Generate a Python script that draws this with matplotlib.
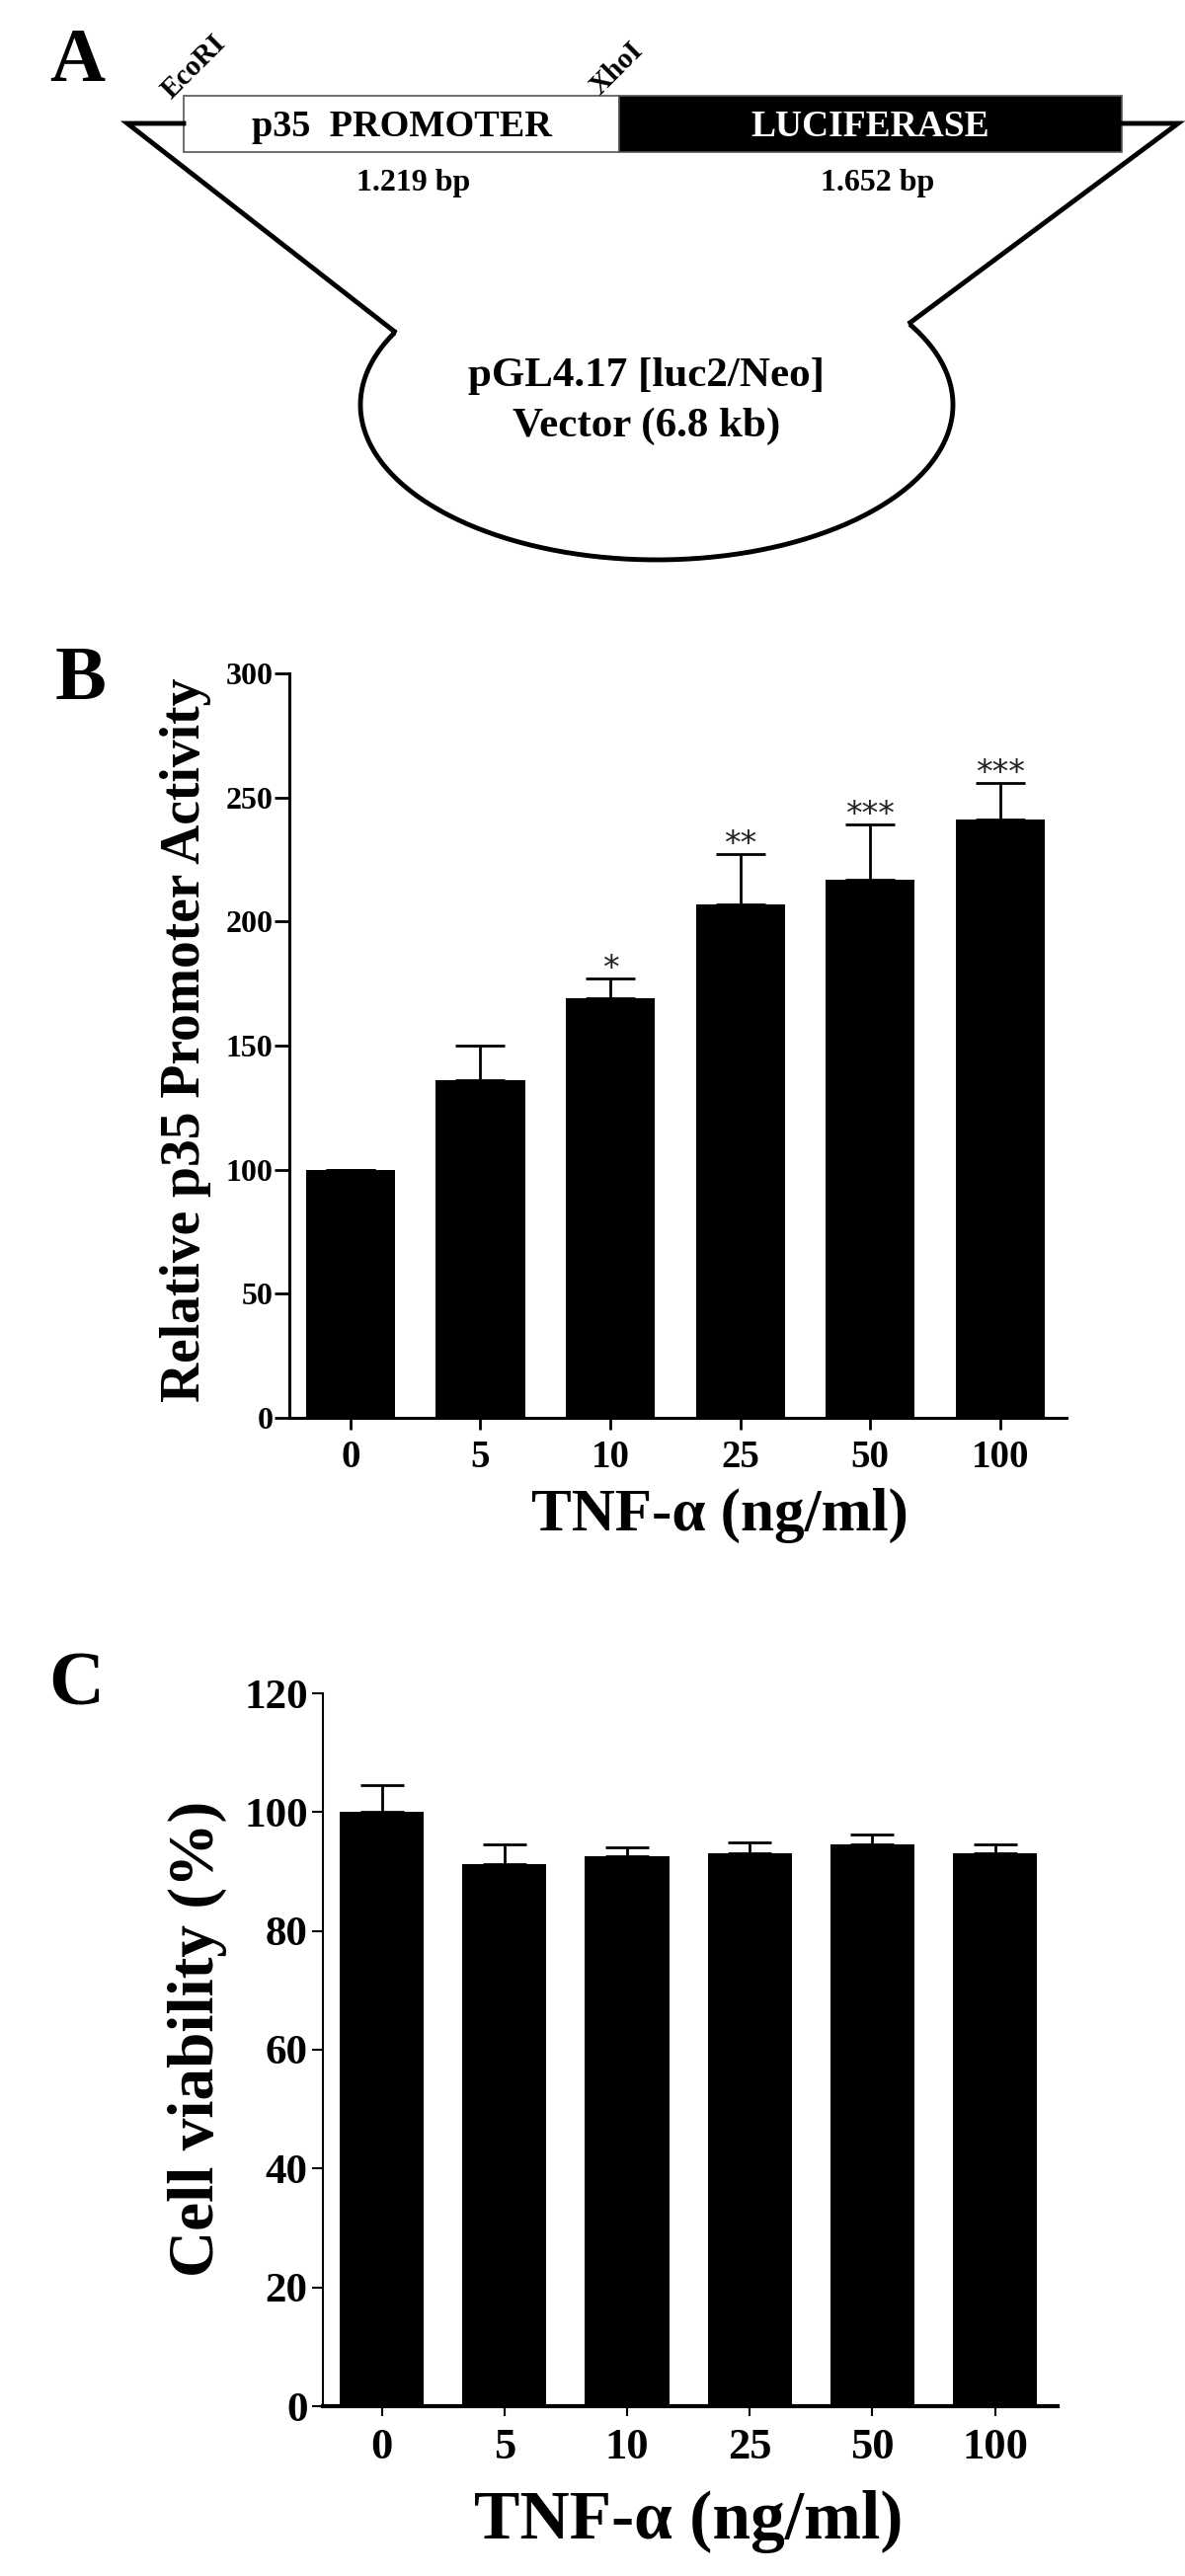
import matplotlib
matplotlib.use('Agg')
import matplotlib.pyplot as plt
import numpy as np
from matplotlib.patches import Rectangle

plt.rcParams['font.family'] = ['Liberation Serif', 'DejaVu Serif']
plt.rcParams['font.weight'] = 'bold'

# data
doses = ['0', '5', '10', '25', '50', '100']
promoter_mean = [100, 136, 169, 207, 217, 241]
promoter_err = [0, 14, 8, 20, 22, 15]
promoter_sig = ['', '', '*', '**', '***', '***']
viability_mean = [100, 91.3, 92.6, 93.0, 94.6, 93.0]
viability_err = [4.6, 3.2, 1.4, 1.9, 1.6, 1.6]

W, H = 1200, 2609
fig = plt.figure(figsize=(W / 100, H / 100), dpi=100)

# ---- panel A: construct schematic, drawn in pixel coordinates ----
axA = fig.add_axes([0, 0, 1, 1])
axA.set_xlim(0, W)
axA.set_ylim(H, 0)
axA.axis('off')

box_x0, box_split, box_x1 = 186, 627, 1136
box_y0, box_y1 = 97, 154
stub_y = 125
left_tip, right_tip = 129, 1193
neck_l, neck_r = (401, 337), (920, 328)
ell_c, ell_rx, ell_ry = (665, 410), 300, 157

axA.add_patch(Rectangle((box_x0, box_y0), box_split - box_x0, box_y1 - box_y0,
                        facecolor='white', edgecolor='#555555', lw=1.2))
axA.add_patch(Rectangle((box_split, box_y0), box_x1 - box_split, box_y1 - box_y0,
                        facecolor='black', edgecolor='#555555', lw=1.2))

t0 = np.arctan2((neck_l[1] - ell_c[1]) / ell_ry, (neck_l[0] - ell_c[0]) / ell_rx) + 2 * np.pi
t1 = np.arctan2((neck_r[1] - ell_c[1]) / ell_ry, (neck_r[0] - ell_c[0]) / ell_rx)
t = np.linspace(t0, t1, 200)
arc_x = ell_c[0] + ell_rx * np.cos(t)
arc_y = ell_c[1] + ell_ry * np.sin(t)

px = [box_x0, left_tip, neck_l[0]] + list(arc_x) + [neck_r[0], right_tip, box_x1]
py = [stub_y, stub_y, neck_l[1]] + list(arc_y) + [neck_r[1], stub_y, stub_y]
axA.plot(px, py, color='black', lw=3.5, solid_joinstyle='miter')

axA.text(407, 128, 'p35  PROMOTER', fontsize=27.5, ha='center', va='center')
axA.text(881, 128, 'LUCIFERASE', fontsize=27, ha='center', va='center', color='white')
axA.text(419, 185, '1.219 bp', fontsize=23, ha='center', va='center')
axA.text(889, 185, '1.652 bp', fontsize=23, ha='center', va='center')
axA.text(174, 101, 'EcoRI', fontsize=21, rotation=45, rotation_mode='anchor',
         ha='left', va='baseline')
axA.text(608, 97, 'XhoI', fontsize=21, rotation=45, rotation_mode='anchor',
         ha='left', va='baseline')
axA.text(655, 381, 'pGL4.17 [luc2/Neo]', fontsize=31, ha='center', va='center')
axA.text(655, 432, 'Vector (6.8 kb)', fontsize=31, ha='center', va='center')

for letter, lx, ly in [('A', 78, 63), ('B', 82, 689), ('C', 77, 1708)]:
    axA.text(lx, ly, letter, fontsize=56, ha='center', va='center')

x = np.arange(len(doses))

# ---- panel B: promoter activity ----
axB = fig.add_axes([293 / W, 1 - 1436 / H, (1080 - 293) / W, (1436 - 682) / H])
axB.bar(x, promoter_mean, width=0.685, color='black',
        yerr=[np.zeros(len(x)), promoter_err], capsize=18,
        error_kw=dict(elinewidth=2, capthick=2, ecolor='black'))
for i, s in enumerate(promoter_sig):
    if s:
        axB.text(x[i], promoter_mean[i] + promoter_err[i], s, ha='center', va='baseline',
                 fontsize=24, family='DejaVu Sans', weight='normal', color='#222222')
axB.set_xlim(-0.47, 5.51)
axB.set_ylim(0, 300)
axB.set_yticks(np.arange(0, 301, 50))
axB.set_xticks(x)
axB.set_xticklabels(doses)
axB.spines['top'].set_visible(False)
axB.spines['right'].set_visible(False)
axB.spines['left'].set_linewidth(2.2)
axB.spines['bottom'].set_linewidth(2.2)
axB.tick_params(axis='y', length=11, width=2, pad=1, labelsize=23)
axB.tick_params(axis='x', length=8.5, width=2, pad=7, labelsize=28)
fig.text(188 / W, 1 - 1053 / H, 'Relative p35 Promoter Activity', rotation=90,
         fontsize=40, ha='center', va='center')
fig.text(729 / W, 1 - 1535 / H, 'TNF-\u03b1 (ng/ml)', fontsize=44, ha='center', va='center')

# ---- panel C: cell viability ----
axC = fig.add_axes([327 / W, 1 - 2437 / H, (1071 - 327) / W, (2437 - 1715) / H])
axC.bar(x, viability_mean, width=0.685, color='black',
        yerr=[np.zeros(len(x)), viability_err], capsize=16,
        error_kw=dict(elinewidth=2, capthick=2, ecolor='black'))
axC.set_xlim(-0.48, 5.51)
axC.set_ylim(0, 120)
axC.set_yticks(np.arange(0, 121, 20))
axC.set_xticks(x)
axC.set_xticklabels(doses)
axC.spines['top'].set_visible(False)
axC.spines['right'].set_visible(False)
axC.spines['left'].set_linewidth(1.5)
axC.spines['bottom'].set_linewidth(3)
axC.tick_params(axis='y', length=8, width=1.5, pad=3, labelsize=31)
axC.tick_params(axis='x', length=7, width=1.5, pad=9, labelsize=32)
fig.text(200 / W, 1 - 2065 / H, 'Cell viability (%)', rotation=90,
         fontsize=47, ha='center', va='center')
fig.text(697 / W, 1 - 2554 / H, 'TNF-\u03b1 (ng/ml)', fontsize=50, ha='center', va='center')

fig.savefig('out.png', dpi=100, facecolor='white')
